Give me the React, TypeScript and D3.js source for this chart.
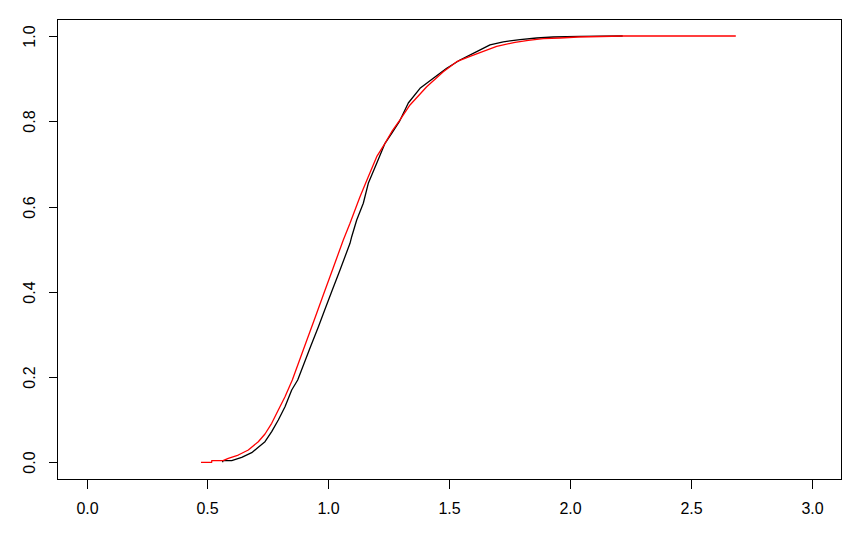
import React from "react";
import * as d3 from "d3";

const blackX = [0.563, 0.563, 0.6003, 0.6416, 0.6829, 0.7102, 0.7379, 0.7656, 0.7929, 0.8206, 0.8483, 0.8731, 0.9049, 0.926, 0.9587, 0.9847, 1.0161, 1.048, 1.0893, 1.0963, 1.117, 1.1443, 1.1649, 1.1997, 1.234, 1.2617, 1.2931, 1.3303, 1.3787, 1.4337, 1.489, 1.544, 1.6131, 1.6681, 1.723, 1.792, 1.8611, 1.9297, 2.0401, 2.2166];
const blackF = [0.0, 0.0038, 0.0038, 0.0117, 0.0225, 0.0352, 0.0483, 0.0718, 0.0992, 0.1304, 0.1696, 0.1931, 0.24, 0.2712, 0.3181, 0.3573, 0.4042, 0.4511, 0.5137, 0.5292, 0.5684, 0.6076, 0.6545, 0.7014, 0.7483, 0.7718, 0.799, 0.8428, 0.8773, 0.9008, 0.9242, 0.9437, 0.9632, 0.9793, 0.9864, 0.9913, 0.9953, 0.9977, 0.9993, 1.0];

// CDF of the fitted / simulated distribution (red)
const redX = [0.4733, 0.5176, 0.5176, 0.5643, 0.5862, 0.6275, 0.6689, 0.7102, 0.7379, 0.7656, 0.7929, 0.8206, 0.8508, 0.9111, 0.9463, 0.9814, 1.0215, 1.0616, 1.0893, 1.1306, 1.1649, 1.1997, 1.234, 1.2617, 1.296, 1.3373, 1.4064, 1.475, 1.5304, 1.5854, 1.6403, 1.6957, 1.7714, 1.8264, 1.8884, 1.9574, 2.0318, 2.2179, 2.6842];
const redF = [0.0, 0.0, 0.0038, 0.0038, 0.0094, 0.0171, 0.0289, 0.0483, 0.0664, 0.0915, 0.1227, 0.1539, 0.1931, 0.2869, 0.3415, 0.3964, 0.4588, 0.5215, 0.5606, 0.623, 0.67, 0.7169, 0.7483, 0.7755, 0.803, 0.8382, 0.8811, 0.9163, 0.9397, 0.9524, 0.9641, 0.9758, 0.9852, 0.9899, 0.9937, 0.9953, 0.9977, 1.0, 1.0];

const xTicks = [0, 0.5, 1, 1.5, 2, 2.5, 3];
const yTicks = [0, 0.2, 0.4, 0.6, 0.8, 1];

export default function App() {
  const W = 861, H = 537;
  const x = d3.scaleLinear().domain([0, 3]).range([86.5, 812.2]);
  const y = d3.scaleLinear().domain([0, 1]).range([462.3, 36]);
  const x0 = Math.round(x(-0.12)) + 0.5;
  const x1 = Math.round(x(3.12)) + 0.5;
  const y0 = Math.round(y(1.04)) + 0.5;
  const y1 = Math.round(y(-0.04)) + 0.5;
  const line = d3.line<[number, number]>().x(d => x(d[0])).y(d => y(d[1]));
  const black = line(blackX.map((v, i) => [v, blackF[i]] as [number, number])) || "";
  const red = line(redX.map((v, i) => [v, redF[i]] as [number, number])) || "";
  const font = "Liberation Sans, Arial, sans-serif";
  return (
    <svg width={W} height={H} style={{ position: "absolute", left: 0, top: 0, background: "#fff" }}>
      <rect x={0} y={0} width={W} height={H} fill="#fff" />
      <path d={black} fill="none" stroke="#000" strokeWidth={1.3} strokeLinejoin="round" />
      <path d={red} fill="none" stroke="#ff0000" strokeWidth={1.3} strokeLinejoin="round" />
      <rect x={x0} y={y0} width={x1 - x0} height={y1 - y0} fill="none" stroke="#000" strokeWidth={1} shapeRendering="crispEdges" />
      {xTicks.map(t => {
        const px = Math.round(x(t)) + 0.5;
        return (
          <g key={"x" + t}>
            <line x1={px} x2={px} y1={y1} y2={y1 + 9} stroke="#000" shapeRendering="crispEdges" />
            <text x={px} y={514} textAnchor="middle" fontFamily={font} fontSize={16}>{t.toFixed(1)}</text>
          </g>
        );
      })}
      {yTicks.map(t => {
        const py = Math.round(y(t)) + 0.5;
        return (
          <g key={"y" + t}>
            <line x1={x0 - 9} x2={x0} y1={py} y2={py} stroke="#000" shapeRendering="crispEdges" />
            <text transform={`translate(35,${py}) rotate(-90)`} textAnchor="middle" fontFamily={font} fontSize={16}>{t.toFixed(1)}</text>
          </g>
        );
      })}
    </svg>
  );
}
